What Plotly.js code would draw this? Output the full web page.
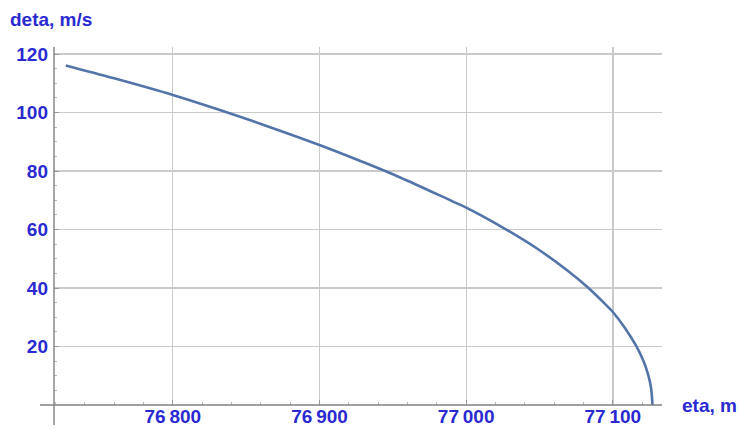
<!DOCTYPE html>
<html>
<head>
<meta charset="utf-8">
<script src="https://cdn.plot.ly/plotly-3.0.1.min.js"></script>
<style>html,body{margin:0;padding:0;background:#fff;}#chart{width:740px;height:430px;}</style>
</head>
<body>
<div id="chart"></div>
<script>
// Data
const eta = [76727, 76760, 76800, 76830, 76860, 76900, 76930, 76955, 76990, 77000, 77020, 77048, 77069, 77083, 77096, 77100, 77108, 77116, 77121, 77124, 77126, 77127];
const deta = [116.1, 111.7, 106.0, 101.2, 96.1, 88.9, 83.0, 77.8, 69.8, 67.5, 62.1, 53.6, 46.0, 40.2, 33.9, 31.8, 26.5, 20.1, 14.9, 10.5, 6.0, 0];
const xTickVals = [76800, 76900, 77000, 77100];
const xTickText = ["76\u2009800", "76\u2009900", "77\u2009000", "77\u2009100"];
const yTickVals = [20, 40, 60, 80, 100, 120];
const xLabel = "eta, m";
const yLabel = "deta, m/s";

const txt = '#2a2ad0';
const fnt = {family: 'Liberation Sans, Arial, sans-serif', size: 19, color: txt, weight: 'bold'};

const trace = {
  x: eta, y: deta, type: 'scatter', mode: 'lines',
  line: {color: '#5374a8', width: 2.6, shape: 'spline', smoothing: 1},
  hoverinfo: 'skip'
};

const layout = {
  width: 740, height: 430,
  margin: {l: 54, r: 78, t: 47, b: 25},
  paper_bgcolor: '#ffffff', plot_bgcolor: '#ffffff',
  showlegend: false,
  xaxis: {
    range: [76719, 77133.5],
    tickvals: xTickVals, ticktext: xTickText,
    tickfont: fnt,
    showgrid: true, gridcolor: '#cacaca', gridwidth: 1.3,
    zeroline: false, showline: false,
    ticks: 'inside', ticklen: 5, tickcolor: '#999', tickwidth: 1,
    ticklabelstandoff: -2,
    minor: {dtick: 20, tick0: 76720, ticks: 'inside', ticklen: 3, tickcolor: '#bbb', showgrid: false},
    fixedrange: true
  },
  yaxis: {
    range: [0, 122.4],
    tickvals: yTickVals,
    tickfont: fnt,
    showgrid: true, gridcolor: '#cacaca', gridwidth: 1.3,
    zeroline: false, showline: false,
    ticks: 'inside', ticklen: 5, tickcolor: '#999', tickwidth: 1,
    ticklabelstandoff: 5,
    minor: {dtick: 5, ticks: 'inside', ticklen: 3, tickcolor: '#bbb', showgrid: false},
    fixedrange: true
  },
  shapes: [
    {type: 'line', xref: 'paper', yref: 'paper', x0: -0.023, x1: 1.0, y0: 0, y1: 0, line: {color: '#808080', width: 1.4}, layer: 'above'},
    {type: 'line', xref: 'paper', yref: 'paper', x0: 0, x1: 0, y0: -0.056, y1: 1.0, line: {color: '#808080', width: 1.4}, layer: 'above'}
  ],
  annotations: [
    {text: yLabel, xref: 'paper', yref: 'paper', x: -0.075, y: 1.078, xanchor: 'left', yanchor: 'middle', showarrow: false, font: fnt},
    {text: xLabel, xref: 'paper', yref: 'paper', x: 1.03, y: 0.0, xanchor: 'left', yanchor: 'middle', showarrow: false, font: fnt}
  ]
};

Plotly.newPlot('chart', [trace], layout, {displayModeBar: false, staticPlot: true});
</script>
</body>
</html>
